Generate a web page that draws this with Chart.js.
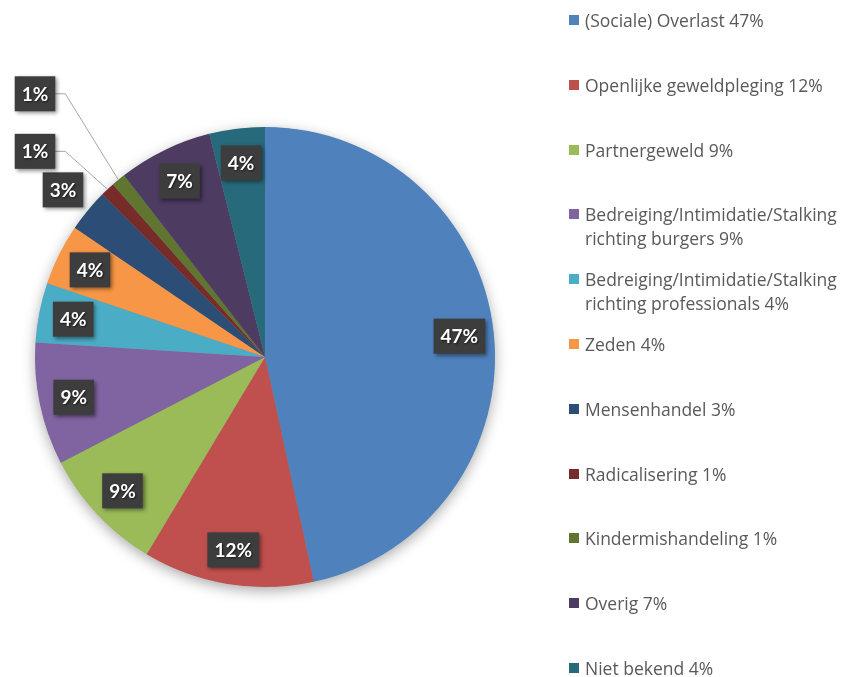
<!DOCTYPE html>
<html>
<head>
<meta charset="utf-8">
<script src="https://cdn.jsdelivr.net/npm/chart.js@4"></script>
<style>
  html, body { margin: 0; padding: 0; background: #fff; }
  #wrap { position: relative; width: 857px; height: 677px; overflow: hidden; }
  #chart { position: absolute; left: 0; top: 0; }
  #legend { position: absolute; left: 568px; top: 0; width: 289px; font-family: "Open Sans", Lato, sans-serif; font-size: 17.5px; color: #595959; }
  .item { position: absolute; left: 0; width: 289px; line-height: 24px; padding-left: 17px; box-sizing: border-box; }
  .box { position: absolute; left: 1px; top: 7px; width: 10px; height: 10px; }
</style>
</head>
<body>
<div id="wrap">
  <canvas id="chart" width="857" height="677"></canvas>
  <div id="legend"></div>
</div>
<script>
const categories = [
  "(Sociale) Overlast",
  "Openlijke geweldpleging",
  "Partnergeweld",
  "Bedreiging/Intimidatie/Stalking richting burgers",
  "Bedreiging/Intimidatie/Stalking richting professionals",
  "Zeden",
  "Mensenhandel",
  "Radicalisering",
  "Kindermishandeling",
  "Overig",
  "Niet bekend"
];

// share of each category in percent
const values = [46.6, 12.0, 8.8, 8.6, 4.2, 4.3, 3.0, 1.0, 1.0, 6.6, 3.9];

const colors = [
  "#4F81BD", "#C0504D", "#9BBB59", "#8064A2", "#4BACC6", "#F79646",
  "#2C4D75", "#772C2A", "#5F7530", "#4D3B62", "#276A7C"
];

const pct = (v) => Math.round(v) + "%";

// legend on the right
const legend = document.getElementById("legend");
categories.forEach((cat, i) => {
  const item = document.createElement("div");
  item.className = "item";
  item.style.top = (8 + i * 64.8) + "px";
  const box = document.createElement("span");
  box.className = "box";
  box.style.background = colors[i];
  item.appendChild(box);
  item.appendChild(document.createTextNode(cat + " " + pct(values[i])));
  legend.appendChild(item);
});

function labelBox(ctx, text, x, y) {
  ctx.font = "bold 19px Lato, 'Open Sans', sans-serif";
  const w = ctx.measureText(text).width + 14;
  const h = 35;
  ctx.save();
  ctx.shadowColor = "rgba(0,0,0,0.45)";
  ctx.shadowBlur = 4;
  ctx.shadowOffsetX = 2;
  ctx.shadowOffsetY = 2;
  ctx.fillStyle = "#3d3d3d";
  ctx.fillRect(x - w / 2, y - h / 2, w, h);
  ctx.restore();
  ctx.save();
  ctx.shadowColor = "rgba(0,0,0,0.6)";
  ctx.shadowBlur = 2;
  ctx.shadowOffsetX = 1;
  ctx.shadowOffsetY = 1;
  ctx.fillStyle = "#fff";
  ctx.textAlign = "center";
  ctx.textBaseline = "middle";
  ctx.fillText(text, x, y + 1);
  ctx.restore();
  return w;
}

const pieDecor = {
  id: "pieDecor",
  beforeDatasetsDraw(chart) {
    const arc = chart.getDatasetMeta(0).data[0];
    const ctx = chart.ctx;
    ctx.save();
    ctx.shadowColor = "rgba(0,0,0,0.35)";
    ctx.shadowBlur = 14;
    ctx.shadowOffsetY = 4;
    ctx.fillStyle = "#888";
    ctx.beginPath();
    ctx.arc(arc.x, arc.y, arc.outerRadius - 0.5, 0, Math.PI * 2);
    ctx.fill();
    ctx.restore();
  },
  afterDatasetsDraw(chart) {
    const ctx = chart.ctx;
    const arcs = chart.getDatasetMeta(0).data;
    let k = 0;
    arcs.forEach((arc, i) => {
      const v = values[i];
      const mid = (arc.startAngle + arc.endAngle) / 2;
      const r = arc.outerRadius;
      const text = pct(v);
      if (v < 2) {
        // small slices: label above-left with leader line
        const ax = arc.x + Math.cos(mid) * r;
        const ay = arc.y + Math.sin(mid) * r;
        const lx = arc.x - r;
        const ly = ay - 38 - 48 * k;
        k++;
        ctx.font = "bold 19px Lato, 'Open Sans', sans-serif";
        const w = ctx.measureText(text).width + 14;
        ctx.save();
        ctx.strokeStyle = "#a6a6a6";
        ctx.lineWidth = 1;
        ctx.beginPath();
        ctx.moveTo(lx + w / 2, ly);
        ctx.lineTo(lx + w / 2 + 10, ly);
        ctx.lineTo(ax, ay);
        ctx.stroke();
        ctx.restore();
        labelBox(ctx, text, lx, ly);
      } else {
        const f = v < 3.5 ? 1.14 : 0.85;
        labelBox(ctx, text, arc.x + Math.cos(mid) * r * f, arc.y + Math.sin(mid) * r * f);
      }
    });
  }
};

new Chart(document.getElementById("chart"), {
  type: "pie",
  data: {
    labels: categories,
    datasets: [{
      data: values,
      backgroundColor: colors,
      borderWidth: 0
    }]
  },
  options: {
    responsive: false,
    animation: false,
    layout: { padding: { left: 35, top: 127, right: 362, bottom: 90 } },
    plugins: {
      legend: { display: false },
      tooltip: { enabled: false }
    }
  },
  plugins: [pieDecor]
});
</script>
</body>
</html>
